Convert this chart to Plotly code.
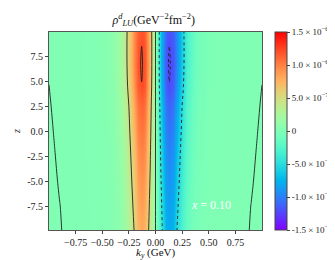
import plotly.graph_objects as go
import numpy as np

# ---- data (values in units of 1e-8 GeV^-2 fm^-2) ----
ky = [-1.0, -0.95, -0.9, -0.8, -0.7, -0.6, -0.5, -0.4, -0.35, -0.3, -0.25, -0.2, -0.16, -0.13, -0.1, -0.05, 0.0,
      0.05, 0.1, 0.13, 0.16, 0.2, 0.25, 0.3, 0.35, 0.4, 0.5, 0.6, 0.7, 0.8, 0.9, 0.95, 1.0]
zv = [-10, -7.5, -5, -2.5, 0, 2.5, 4.5, 6.7, 8.5, 10]

rho = [
    [-0.03, -0.03, -0.02, 0.08, 0.16, 0.32, 0.8, 2.8, 6.4, 14.4, 28.8, 50.4, 74.4, 80.0, 74.4, 40.0, 0.0,
     -40.0, -74.4, -80.0, -74.4, -50.4, -28.8, -14.4, -6.4, -2.8, -0.8, -0.32, -0.16, -0.08, 0.02, 0.03, 0.03],
    [-0.025, -0.02, -0.005, 0.086, 0.17, 0.35, 0.91, 3.3, 7.4, 16.3, 32.4, 55.7, 80.2, 86.0, 80.1, 43.9, 0.0,
     -43.9, -80.1, -86.0, -80.2, -55.7, -32.4, -16.3, -7.4, -3.3, -0.91, -0.35, -0.17, -0.086, 0.005, 0.02, 0.025],
    [-0.03, -0.03, 0.02, 0.09, 0.18, 0.39, 1.0, 3.8, 8.5, 18.5, 36.3, 61.4, 86.0, 92.0, 85.8, 48.0, 0.0,
     -48.0, -85.8, -92.0, -86.0, -61.4, -36.3, -18.5, -8.5, -3.8, -1.0, -0.39, -0.18, -0.09, -0.02, 0.03, 0.03],
    [-0.02, -0.01, 0.04, 0.1, 0.2, 0.43, 1.18, 4.3, 9.65, 20.7, 40.3, 67.0, 91.9, 98.0, 91.6, 52.2, 0.0,
     -52.2, -91.6, -98.0, -91.9, -67.0, -40.3, -20.7, -9.65, -4.3, -1.18, -0.43, -0.2, -0.1, -0.04, 0.01, 0.02],
    [-0.04, 0.01, 0.05, 0.105, 0.21, 0.47, 1.31, 5.0, 11.0, 23.3, 45.2, 73.9, 98.8, 105.0, 98.4, 57.2, 0.0,
     -57.2, -98.4, -105.0, -98.8, -73.9, -45.2, -23.3, -11.0, -5.0, -1.31, -0.47, -0.21, -0.105, -0.05, -0.01, 0.04],
    [-0.02, 0.03, 0.06, 0.11, 0.22, 0.52, 1.47, 5.66, 12.4, 26.1, 50.0, 80.8, 105.6, 112.0, 105.2, 62.2, 0.0,
     -62.2, -105.2, -112.0, -105.6, -80.8, -50.0, -26.1, -12.4, -5.66, -1.47, -0.52, -0.22, -0.11, -0.06, -0.03, 0.02],
    [-0.002, 0.04, 0.07, 0.12, 0.24, 0.58, 1.68, 6.5, 14.3, 29.7, 56.6, 90.3, 115.4, 122.0, 114.7, 69.2, 0.0,
     -69.2, -114.7, -122.0, -115.4, -90.3, -56.6, -29.7, -14.3, -6.5, -1.68, -0.58, -0.24, -0.12, -0.07, -0.04, 0.002],
    [0.03, 0.05, 0.08, 0.125, 0.25, 0.61, 1.8, 7.1, 15.4, 31.7, 59.9, 94.4, 118.0, 124.5, 117.1, 71.8, 0.0,
     -71.8, -117.1, -124.5, -118.0, -94.4, -59.9, -31.7, -15.4, -7.1, -1.8, -0.61, -0.25, -0.125, -0.08, -0.05, -0.03],
    [0.03, 0.05, 0.08, 0.12, 0.24, 0.61, 1.81, 7.2, 15.6, 32.0, 60.3, 94.3, 116.4, 122.5, 115.4, 71.7, 0.0,
     -71.7, -115.4, -122.5, -116.4, -94.3, -60.3, -32.0, -15.6, -7.2, -1.81, -0.61, -0.24, -0.12, -0.08, -0.05, -0.03],
    [0.03, 0.05, 0.08, 0.12, 0.23, 0.6, 1.79, 7.1, 15.5, 31.5, 59.4, 92.5, 113.2, 119.0, 112.2, 70.1, 0.0,
     -70.1, -112.2, -119.0, -113.2, -92.5, -59.4, -31.5, -15.5, -7.1, -1.79, -0.6, -0.23, -0.12, -0.08, -0.05, -0.03],
]
unit = 1e-8
cbar_vals = [-1.5e-6, -1e-6, -5e-7, 0, 5e-7, 1e-6, 1.5e-6]
cbar_text = ["-1.5 × 10<sup>−6</sup>", "-1.0 × 10<sup>−6</sup>", "-5.0 × 10<sup>−7</sup>", "0",
             "5.0 × 10<sup>−7</sup>", "1.0 × 10<sup>−6</sup>", "1.5 × 10<sup>−6</sup>"]
x_ticks = [-0.75, -0.5, -0.25, 0.0, 0.25, 0.5, 0.75]
x_text = ["−0.75", "−0.50", "−0.25", "0.00", "0.25", "0.50", "0.75"]
y_ticks = [-7.5, -5.0, -2.5, 0.0, 2.5, 5.0, 7.5]
y_text = ["-7.5", "-5.0", "-2.5", "0.0", "2.5", "5.0", "7.5"]
pos_levels = [1e-14, 5e-7, 1.225e-6]
neg_levels = [-5e-7, -1.225e-6]

Z = np.array(rho) * unit

# matplotlib 'rainbow' colormap
def rainbow(t):
    r = abs(2 * t - 0.5)
    g = np.sin(np.pi * t)
    b = np.cos(np.pi * t / 2)
    r = min(max(r, 0), 1)
    return f"rgb({int(round(r*255))},{int(round(g*255))},{int(round(b*255))})"

cscale = [[i / 20, rainbow(i / 20)] for i in range(21)]

FONT = "Liberation Serif, Times New Roman, serif"

fig = go.Figure()
fig.add_trace(go.Heatmap(
    x=ky, y=zv, z=Z, zmin=-1.5e-6, zmax=1.5e-6, zsmooth="best",
    colorscale=cscale,
    colorbar=dict(
        x=1.061, xanchor="left", y=0.5, yanchor="middle", len=1, lenmode="fraction",
        thickness=12, outlinewidth=1, outlinecolor="#444", xpad=0, ypad=0,
        tickvals=cbar_vals, ticktext=cbar_text, ticks="outside", ticklen=3,
        tickfont=dict(family=FONT, size=9, color="#222"),
    ),
))
for lv in pos_levels:
    fig.add_trace(go.Contour(
        x=ky, y=zv, z=Z, showscale=False, hoverinfo="skip",
        contours=dict(start=lv, end=lv, size=1, coloring="none"),
        line=dict(color="#222", width=0.9), ncontours=1,
    ))
for lv in neg_levels:
    fig.add_trace(go.Contour(
        x=ky, y=zv, z=Z, showscale=False, hoverinfo="skip",
        contours=dict(start=lv, end=lv, size=1, coloring="none"),
        line=dict(color="#222", width=0.9, dash="dot"), ncontours=1,
    ))

fig.update_layout(
    width=335, height=260,
    margin=dict(l=41, r=81, t=24, b=38, autoexpand=False),
    paper_bgcolor="white", plot_bgcolor="white",
    font=dict(family=FONT, size=10, color="#222"),
    showlegend=False,
    title=dict(text="<i>ρ</i><sup><i>d</i></sup><sub><i>LU</i></sub>(GeV<sup>−2</sup>fm<sup>−2</sup>)",
               x=0.435, xanchor="center", y=0.955, yanchor="middle",
               font=dict(family=FONT, size=12, color="#111")),
    xaxis=dict(range=[-1.0, 1.0], tickvals=x_ticks, ticktext=x_text, ticks="outside", ticklen=3,
               tickangle=0, tickfont=dict(size=10),
               showgrid=False, zeroline=False, showline=True, mirror=True, linecolor="#555", linewidth=1),
    yaxis=dict(range=[-9.9, 9.93], tickvals=y_ticks, ticktext=y_text, ticks="outside", ticklen=3,
               tickfont=dict(size=10),
               showgrid=False, zeroline=False, showline=True, mirror=True, linecolor="#555", linewidth=1),
    annotations=[
        dict(text="<i>x</i> = 0.10", x=0.864, y=0.08, xref="paper", yref="paper",
             showarrow=False, font=dict(family=FONT, size=12, color="white")),
        dict(text="<i>k<sub>y</sub></i> (GeV)", x=0.5, y=-0.078, xref="paper", yref="paper",
             xanchor="center", yanchor="top", showarrow=False, borderpad=0,
             font=dict(family=FONT, size=11, color="#111")),
        dict(text="<i>z</i>", x=-0.155, y=0.5, xref="paper", yref="paper", textangle=-90,
             xanchor="center", yanchor="middle", showarrow=False,
             font=dict(family=FONT, size=10, color="#222")),
    ],
)

fig.write_html("out.html")
